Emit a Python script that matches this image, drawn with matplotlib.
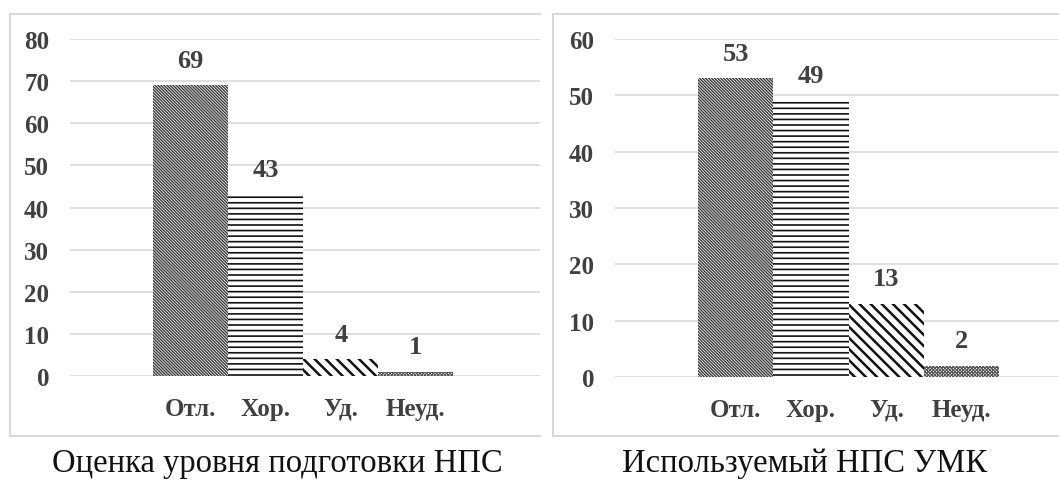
import matplotlib
matplotlib.use('Agg')
import matplotlib.pyplot as plt
from matplotlib.lines import Line2D

# data
grades = ["Отл.", "Хор.", "Уд.", "Неуд."]
prep_level = [69, 43, 4, 1]
umk_used = [53, 49, 13, 2]
titles = ["Оценка уровня подготовки НПС", "Используемый НПС УМК"]

HATCHES = ["\\" * 11, "---", "\\" * 3, "x" * 10]
HCOLORS = ["#3a3a3a", "#111111", "#111111", "#555555"]
HLW = [1.0, 1.2, 1.8, 0.8]
C_GRID = "#d9d9d9"
C_TICK = "#404040"

plt.rcParams["font.family"] = ["Liberation Serif", "DejaVu Serif"]

W, H = 1059, 485
fig = plt.figure(figsize=(W / 100, H / 100), dpi=100)


def fx(px):
    return px / W


def fy(py):
    return 1 - py / H


def panel(rect, values, ymax, step, xlim):
    ax = fig.add_axes(rect)
    for i, v in enumerate(values):
        with plt.rc_context({"hatch.linewidth": HLW[i]}):
            ax.bar(i, v, width=1.0, facecolor="white", edgecolor=HCOLORS[i],
                   hatch=HATCHES[i], linewidth=0, zorder=3)
        ax.annotate(str(v), xy=(i, v), xytext=(0, 18), textcoords="offset points",
                    ha="center", va="center", fontsize=19, fontweight="bold",
                    color=C_TICK)
    ax.set_ylim(0, ymax)
    ax.set_xlim(*xlim)
    ax.set_yticks(range(0, ymax + 1, step))
    ax.set_xticks(range(len(values)))
    ax.set_xticklabels(grades)
    ax.tick_params(length=0, labelsize=18, colors=C_TICK, pad=15)
    for lab in ax.get_xticklabels() + ax.get_yticklabels():
        lab.set_fontweight("bold")
    ax.grid(axis="y", color=C_GRID, linewidth=1.2, zorder=0)
    for s in ax.spines.values():
        s.set_visible(False)
    ax.patch.set_alpha(0)
    return ax


# left chart
panel([fx(70), fy(377), fx(540) - fx(70), fy(40) - fy(377)],
      prep_level, 80, 10, (-1.607, 4.653))
# right chart
panel([fx(615), fy(378), fx(1059) - fx(615), fy(40) - fy(378)],
      umk_used, 60, 10, (-1.60, 4.29))

# panel frames
frame = dict(color=C_GRID, linewidth=1.5, transform=fig.transFigure)
fig.add_artist(Line2D([fx(10), fx(540)], [fy(15), fy(15)], **frame))
fig.add_artist(Line2D([fx(10), fx(540)], [fy(437), fy(437)], **frame))
fig.add_artist(Line2D([fx(10), fx(10)], [fy(15), fy(437)], **frame))
fig.add_artist(Line2D([fx(553), fx(1059)], [fy(15), fy(15)], **frame))
fig.add_artist(Line2D([fx(553), fx(1059)], [fy(437), fy(437)], **frame))
fig.add_artist(Line2D([fx(553), fx(553)], [fy(15), fy(437)], **frame))

fig.text(fx(277), fy(464), titles[0], ha="center", va="center", fontsize=23.5, color="#111111")
fig.text(fx(805), fy(464), titles[1], ha="center", va="center", fontsize=23.5, color="#111111")

fig.savefig("out.png", dpi=100)
